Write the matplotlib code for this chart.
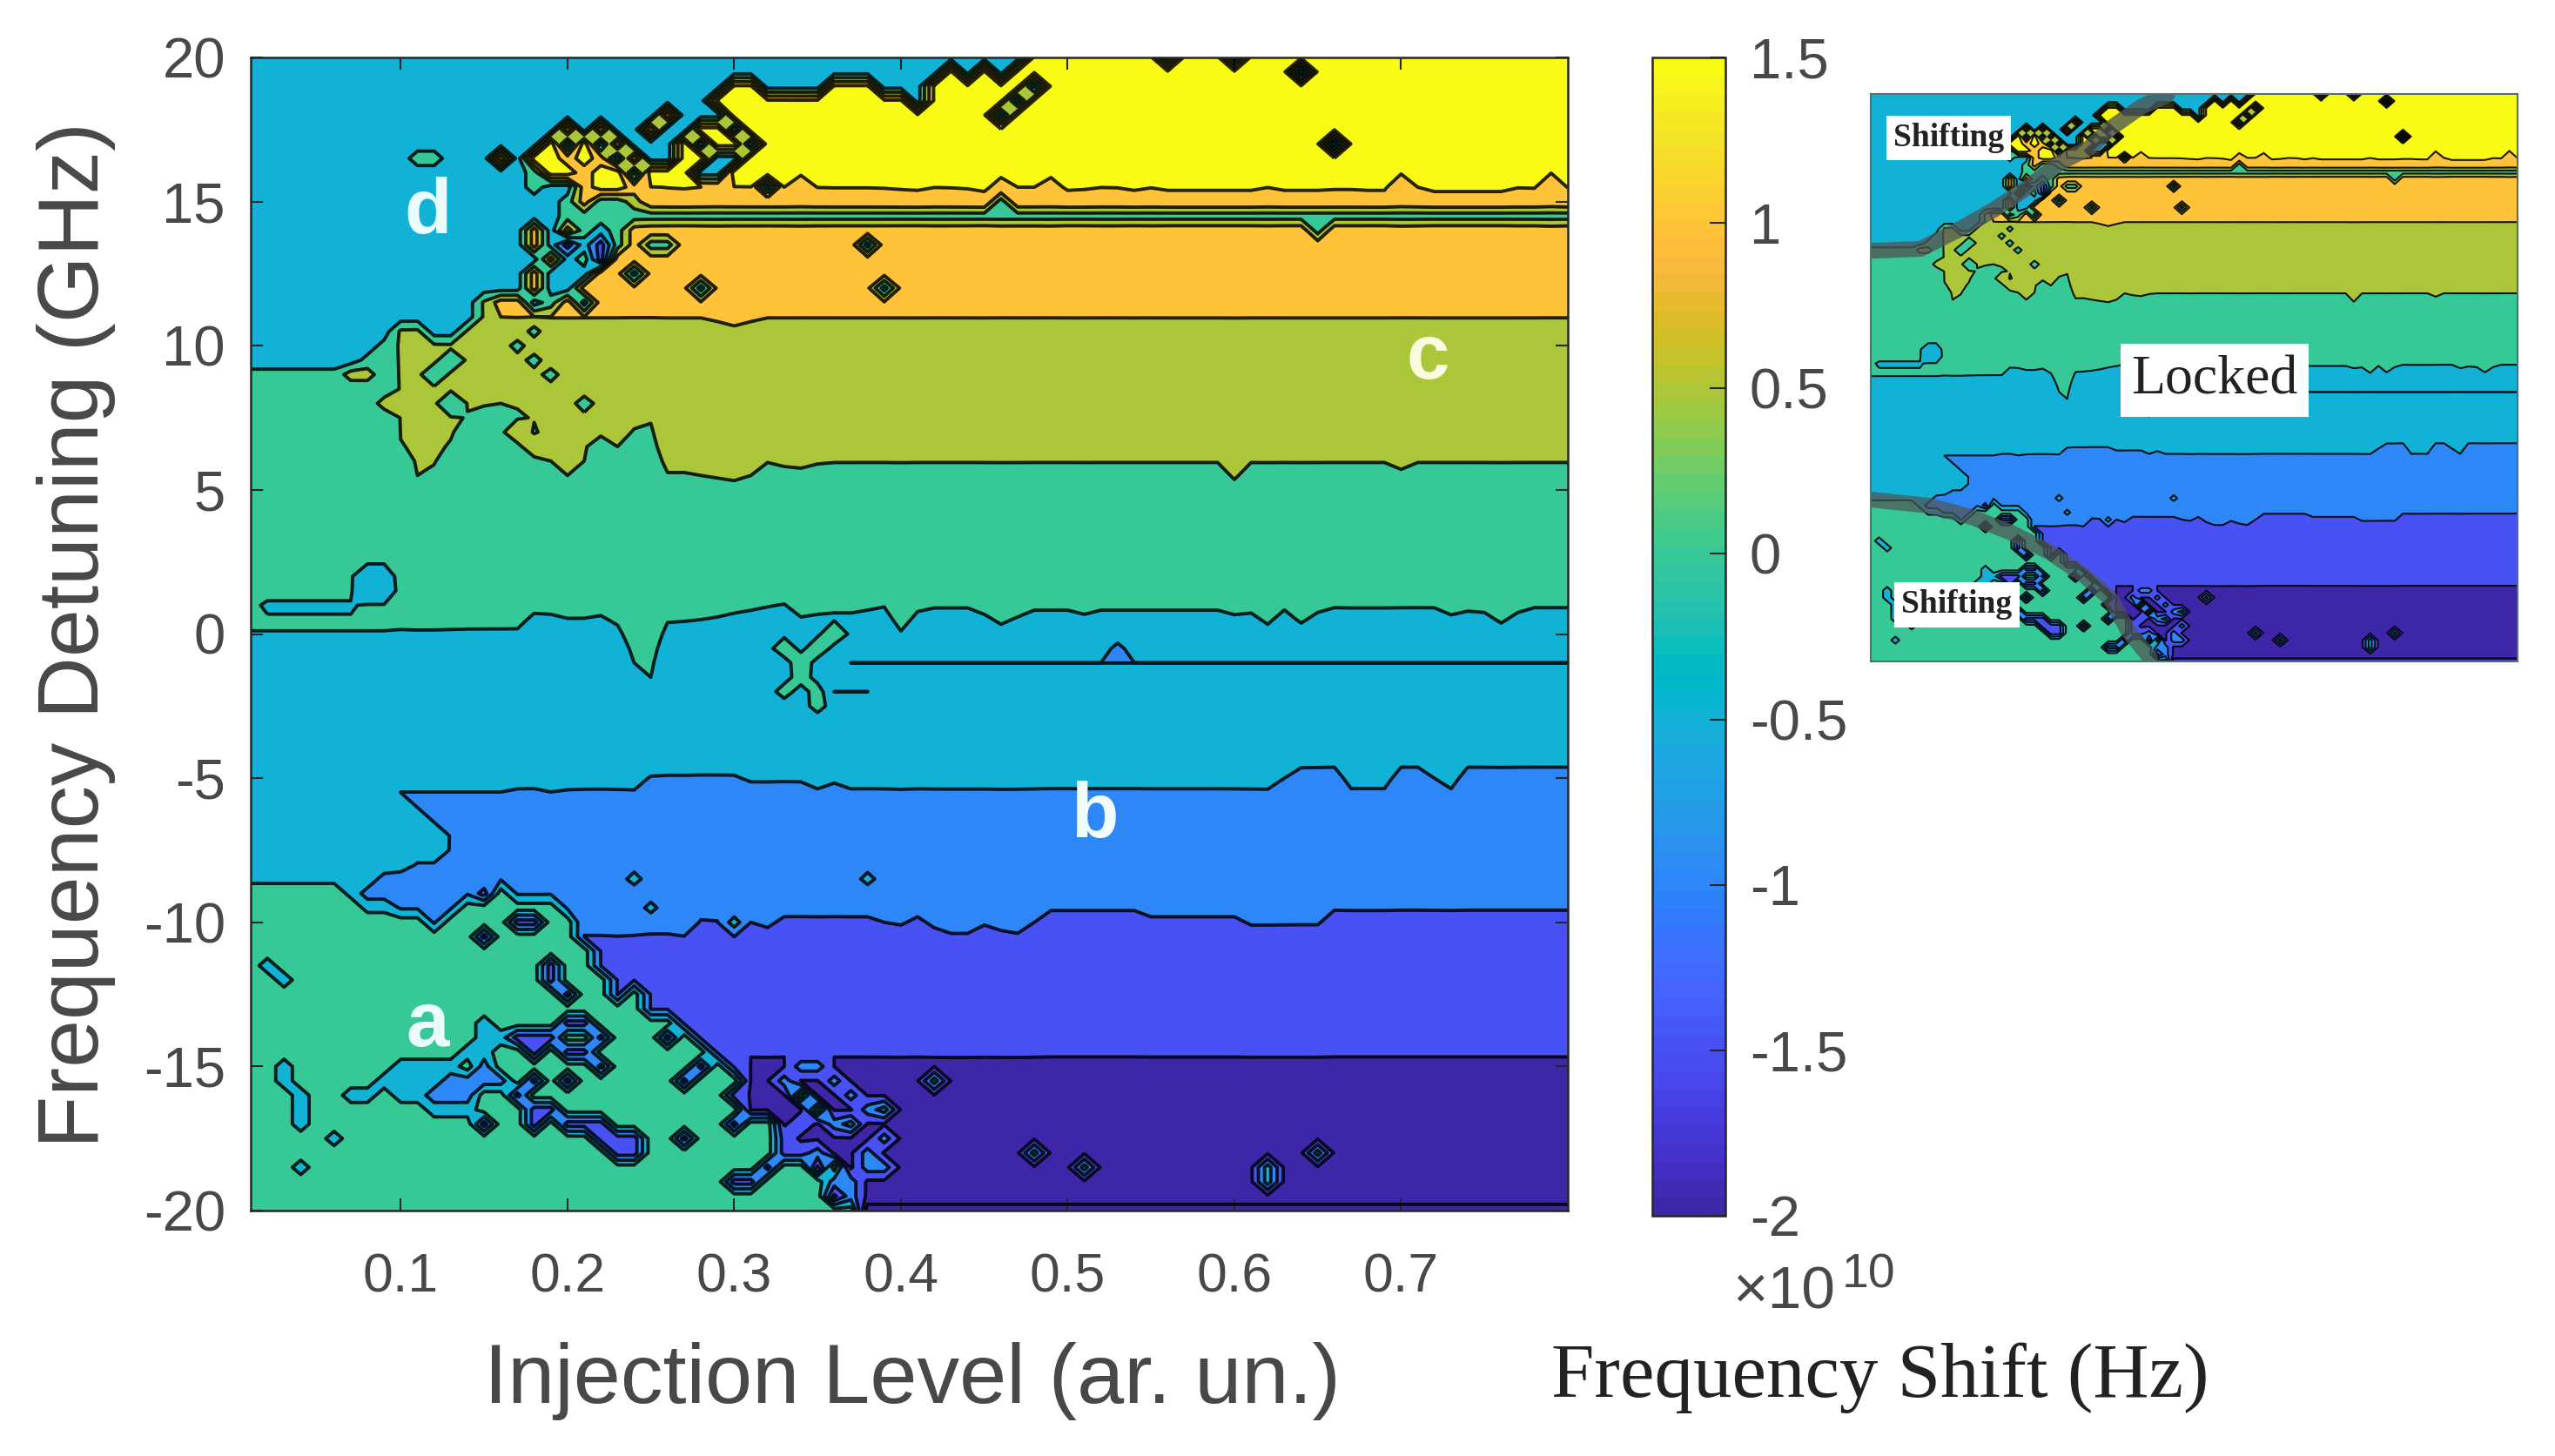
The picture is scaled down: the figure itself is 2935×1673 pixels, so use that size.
import numpy as np
import matplotlib
matplotlib.use("Agg")
import matplotlib.pyplot as plt
from matplotlib.cm import ScalarMappable
from matplotlib.colors import ListedColormap, Normalize

plt.rcParams["font.family"] = ["Liberation Sans", "DejaVu Sans"]
plt.rcParams["axes.unicode_minus"] = False

W, H = 2935, 1673

# grid of the measurement: injection level and detuning (GHz)
injection = np.arange(1, 81) / 100
detuning = np.arange(-40, 41) / 2
shift_levels = [-2, -1.5, -1, -0.5, 0, 0.5, 1, 1.5]
band_values = {"0": -1.75, "1": -1.25, "2": -0.75, "3": -0.25, "4": 0.25, "5": 0.75, "6": 1.25, "7": 1.75}

# detuning at which each contour level is crossed, one value per injection column
cross_m15 = [-42] * 30 + [-14.55] * 50
cross_m10 = ([-41] * 20 + [-10.3, -10.3, -10.4, -10.3, -10.2, -10.2, -10.4, -9.7, -9.8, -10.4, -10, -10.2, -9.8]
             + [-9.8] * 5 + [-10, -10.1, -9.8, -10.2, -10.4, -10.4, -10.1, -10.3, -10.4, -10]
             + [-9.58] * 6 + [-9.8] * 6 + [-10.1] * 5 + [-9.58] * 15)
cross_m5 = ([-40] * 9 + [-5.4] * 7 + [-5.15, -5.15, -5.4, -5.2] + [-5.4] * 4 + [-4.9] * 6 + [-5.15] * 4
            + [-5.4, -5.2] + [-5.4] * 26 + [-5, -4.63, -4.63, -4.63, -5.4, -5.4, -5.4, -4.63, -4.63, -5, -5.4]
            + [-4.63] * 7)
cross_0 = ([0.14] * 17 + [0.7, 0.7, 0.55, 0.55, 0.65, 0.3, -1, -1.5, 0.4, 0.44, 0.5, 0.6, 0.75, 0.85, 0.95, 1.05,
                          0.6, 0.7, 0.75, 0.75, 0.85, 0.95, 0.1, 0.8, 0.92, 0.92, 0.92, 0.7, 0.34, 0.6, 0.85,
                          0.85, 0.85, 0.7] + [0.85] * 8 + [0.7, 0.75, 0.34, 0.85, 0.37, 0.75] + [0.92] * 7
           + [0.68, 0.8, 0.75, 0.37, 0.75, 0.92, 0.92, 0.92])
cross_p5 = ([30] * 9 + [6.6, 5.5, 5.7, 6.6, 7.6, 7.8, 8, 7.9, 7.4, 6, 5.5, 6, 6.1, 6.5, 7.2, 7.4, 5.6, 5.6, 5.5, 5.4,
                        5.3, 5.5, 5.95, 5.8, 5.75, 5.9] + [5.95] * 24 + [5.34] + [5.95] * 9 + [5.7] + [5.95] * 10)
cross_p10 = [31] * 15 + [10.97] * 13 + [10.85, 10.7, 10.85] + [10.97] * 49
cross_p15 = ([32] * 16 + [15.4] * 8 + [15.55, 15.4, 15.3, 15.5, 15.75, 15.6, 15.55, 15.45, 15.5, 15.75, 15.45, 15.4,
                                       15.4, 15.4, 15.35, 15.25, 15.2, 15.45, 15.4, 15.3, 15.15, 15.65, 15.5, 15.5,
                                       15.65, 15.2, 15.25, 15.45, 15.4, 15.2, 15.4, 15.2]
             + [15.2] * 5 + [15.45, 15.2, 15.2, 15.2, 15.25, 15.25, 15.2, 15.2, 15.85, 15.5]
             + [15.15] * 5 + [15.4, 15.35, 15.95, 15.4])

# edges of the locked range: above/below these the laser is only shifted
upper_edge = ([9.1] * 6 + [9.3, 9.6, 10, 10.9, 10.6, 10.4, 10.4, 10.9, 11.6, 12.4, 14.2, 15.6, 17.2, 18, 17.6, 18,
                           17.2, 17.6, 18.2, 18.3, 17.6, 17.8, 18.6, 19.1, 19.1, 18.9, 18.7, 18.8, 18.8, 19.2, 19.3,
                           19, 18.7, 18.7, 18.1, 19, 19.7, 19.2, 19.6, 19.3, 19.7] + [21] * 33)
lower_edge = ([-8.6] * 6 + [-9, -9.5, -9.5, -9.7, -9.9, -10, -9.9, -9, -8.7, -8.7, -9, -9, -9, -9.5, -10.5, -11.5,
                            -12.5, -12, -13, -13, -13.5, -14, -14.5, -15, -16.5, -17, -17.5, -18, -18.5, -19.5, -20]
              + [-21] * 43)

# messy part around the upper edge, columns 15..31 (index 14..30 of x/0.01 - 1)
chaos_y = [18, 17.5, 17, 16.5, 16, 15.5, 15, 14.5, 14, 13.5, 13, 12.5, 12, 11.5]
chaos_rows = [
    "33333333337333777",
    "33337373373377377",
    "33373737333737737",
    "73776763733773377",
    "33477677377733777",
    "334336776........",
    "333346445........",
    "333344444........",
    "336364346........",
    "336313146........",
    "33363416.........",
    "3363336..........",
    "336336...........",
    "6634636..........",
]

# single measurement points that fall out of their neighbourhood: (column, detuning)
spots_blue = [(18, -11.5), (18, -12), (19, -12.5), (20, -13.5), (21, -14), (16, -10), (17, -10), (14, -9),
              (14, -10.5), (25, -14), (19, -14.5), (21, -15), (26, -15.5), (27, -15), (26, -17.5), (29, -16),
              (29, -17), (14, -17), (19, -17), (20, -17), (21, -17), (21, -17.5), (22, -17.5), (22, -18), (23, -18),
              (23, -17.5), (17, -16.5), (18, -16.5), (17, -17), (31, -18.5), (32, -18), (30, -19), (29, -19),
              (32, -17.5), (33, -17), (33, -18), (16, -14), (17, -14), (18, -14), (17, -14.5), (19, -13.5),
              (20, -14.5), (19, -15.5), (17, -15.5), (16, -16)]
spots_midblue = [(11, -16), (12, -16), (13, -16), (12, -15.5), (13, -15.5), (14, -15.5), (14, -15), (15, -15.5),
                 (32, -15.5), (33, -15), (34, -15), (35, -15.5), (36, -16), (37, -16.5), (38, -17.5), (37, -18),
                 (37, -18.5), (38, -18.5), (36, -19), (36, -19.5), (35, -17), (34, -18), (35, -19), (65, 17),
                 (63, 19.5), (52, -0.5), (7, -9), (8, -9), (8, -8.5), (9, -8.5)]
spots_teal = [(9, -6), (9, -6.5), (9, -7), (9, -7.5), (9, -8), (10, -6.5), (10, -7), (10, -7.5), (11, -7),
              (11, -7.5), (7, 1.5), (8, 1.5), (7, 2), (8, 2), (8, -15.5), (9, -15.5), (9, -15), (10, -15),
              (11, -15), (12, -15), (9, -16), (10, -15.5), (10, -16), (13, -14.5), (14, -14.5), (15, -14), (14, -14),
              (11, -15.5), (11, -16.5), (12, -16.5), (13, -16.5), (1, -11.5), (2, -12), (6, -16), (7, -16),
              (5, -17.5), (3, -18.5), (2, -15), (2, -15.5), (3, -16), (3, -16.5), (3, -17), (14, -13.5), (23, -8.5),
              (24, -9.5), (37, -8.5), (29, -10), (23, 12.5), (27, 12), (37, 13.5), (38, 12), (31, 15.5), (55, 20),
              (59, 20), (46, 18.5), (47, 19), (45, 18), (44, 20), (45, 20), (46, 20), (36, -17), (38, -16.5),
              (41, -15.5), (47, -18), (50, -18.5), (61, -18.5), (61, -19), (64, -18)]
spots_green = [(10, 16.5), (11, 16.5), (12, 9.5), (11, 9), (12, 8), (20, 8), (21, 6.5), (17, 10.5), (16, 10),
               (17, 9.5), (18, 9), (24, 13.5), (25, 13.5), (45, 15), (64, 14), (32, -0.5), (33, -1), (34, -0.5),
               (35, 0), (33, -1.5), (34, -2), (34, -2.5), (32, -2), (34, -16.5), (33, -16), (36, -20), (35, -20),
               (31, -17), (35, -18.5)]
spots_olive = [(6, 9), (7, 9), (8, 8), (16, 7), (17, 6.5)]

# rows that dip into a narrow trough along the locked range: (detuning, first column, last column, value)
trough_rows = [(14.5, 23, 79, 0.25), (-1, 36, 79, -0.505), (-2, 35, 37, -0.505), (1, 1, 6, -0.01),
               (-20, 37, 79, -2.3)]

# grey strokes drawn over the small copy to mark the locking boundary
stroke_up_x = [0.013, 0.071, 0.118, 0.16, 0.203, 0.24, 0.277, 0.303, 0.34, 0.372]
stroke_up_y = [8.95, 9.08, 10.45, 11.83, 13.47, 15.12, 16.21, 17.59, 19.09, 19.92]
stroke_low_x = [0.013, 0.081, 0.134, 0.182, 0.229, 0.271, 0.303, 0.324, 0.351]
stroke_low_y = [-8.61, -9.02, -9.84, -10.94, -12.31, -13.96, -15.6, -17.8, -19.72]

x_ticks = [0.1, 0.2, 0.3, 0.4, 0.5, 0.6, 0.7]
y_ticks = [-20, -15, -10, -5, 0, 5, 10, 15, 20]
cbar_ticks = [-2, -1.5, -1, -0.5, 0, 0.5, 1, 1.5]
cbar_labels = ["-2", "-1.5", "-1", "-0.5", "0", "0.5", "1", "1.5"]

parula = ListedColormap([
    (0.2422, 0.1504, 0.6603), (0.2504, 0.1650, 0.7076), (0.2578, 0.1818, 0.7511), (0.2647, 0.1978, 0.7952),
    (0.2706, 0.2147, 0.8364), (0.2751, 0.2342, 0.8710), (0.2783, 0.2559, 0.8991), (0.2803, 0.2782, 0.9221),
    (0.2813, 0.3006, 0.9414), (0.2810, 0.3228, 0.9579), (0.2795, 0.3447, 0.9717), (0.2760, 0.3667, 0.9829),
    (0.2699, 0.3892, 0.9906), (0.2602, 0.4123, 0.9952), (0.2440, 0.4358, 0.9988), (0.2206, 0.4603, 0.9973),
    (0.1963, 0.4847, 0.9892), (0.1834, 0.5074, 0.9798), (0.1786, 0.5289, 0.9682), (0.1764, 0.5499, 0.9520),
    (0.1687, 0.5703, 0.9359), (0.1540, 0.5902, 0.9218), (0.1460, 0.6091, 0.9079), (0.1380, 0.6276, 0.8973),
    (0.1248, 0.6459, 0.8883), (0.1113, 0.6635, 0.8763), (0.0952, 0.6798, 0.8598), (0.0689, 0.6948, 0.8394),
    (0.0297, 0.7082, 0.8163), (0.0036, 0.7203, 0.7917), (0.0067, 0.7312, 0.7660), (0.0433, 0.7411, 0.7394),
    (0.0964, 0.7500, 0.7120), (0.1408, 0.7584, 0.6842), (0.1717, 0.7670, 0.6554), (0.1938, 0.7758, 0.6251),
    (0.2161, 0.7843, 0.5923), (0.2470, 0.7918, 0.5567), (0.2906, 0.7973, 0.5188), (0.3406, 0.8008, 0.4789),
    (0.3909, 0.8029, 0.4354), (0.4456, 0.8024, 0.3909), (0.5044, 0.7993, 0.3480), (0.5616, 0.7942, 0.3045),
    (0.6174, 0.7876, 0.2612), (0.6720, 0.7793, 0.2227), (0.7242, 0.7698, 0.1910), (0.7738, 0.7598, 0.1646),
    (0.8203, 0.7498, 0.1535), (0.8634, 0.7406, 0.1596), (0.9035, 0.7330, 0.1774), (0.9393, 0.7288, 0.2100),
    (0.9728, 0.7298, 0.2394), (0.9956, 0.7434, 0.2371), (0.9970, 0.7659, 0.2199), (0.9952, 0.7893, 0.2028),
    (0.9892, 0.8136, 0.1885), (0.9786, 0.8386, 0.1766), (0.9676, 0.8639, 0.1643), (0.9610, 0.8890, 0.1537),
    (0.9597, 0.9135, 0.1423), (0.9628, 0.9373, 0.1265), (0.9691, 0.9606, 0.1064), (0.9769, 0.9839, 0.0805),
])


def row_of(y):
    return int(round((y + 20) * 2))


def build_shift_map():
    z = np.zeros((len(detuning), len(injection)))
    for c in range(len(injection)):
        xp = [-60, cross_m15[c], cross_m10[c], cross_m5[c], cross_0[c], cross_p5[c], cross_p10[c], cross_p15[c], 60]
        fp = [-2.5, -1.5, -1, -0.5, 0, 0.5, 1, 1.5, 2.5]
        z[:, c] = np.interp(detuning, xp, fp)
        z[detuning > upper_edge[c], c] = band_values["3"]
        z[detuning < lower_edge[c], c] = band_values["4"]

    for y, first, last, value in trough_rows:
        z[row_of(y), first:last + 1] = value

    for y, text in zip(chaos_y, chaos_rows):
        for k, ch in enumerate(text):
            if ch != ".":
                z[row_of(y), 15 + k] = band_values[ch]

    for spots, key in [(spots_blue, "1"), (spots_midblue, "2"), (spots_teal, "3"),
                       (spots_green, "4"), (spots_olive, "5")]:
        for c, y in spots:
            z[row_of(y), c] = band_values[key]
    return z


def draw_field(ax, z, lw, alpha):
    fill_levels = [-3] + shift_levels + [2, 3]
    fill_colors = [parula(0.0)] + [parula((v + 2) / 3.5) for v in shift_levels] + [parula(1.0)]
    ax.contourf(injection, detuning, z, levels=fill_levels, colors=fill_colors)
    ax.contour(injection, detuning, z, levels=shift_levels, colors="k", linewidths=lw, alpha=alpha,
               linestyles="solid")
    ax.set_xlim(0.01, 0.8)
    ax.set_ylim(-20, 20)


def add_axes_px(fig, left, top, right, bottom):
    return fig.add_axes([left / W, 1 - bottom / H, (right - left) / W, (bottom - top) / H])


def text_px(fig, x, y, s, **kw):
    fig.text(x / W, 1 - y / H, s, **kw)


shift_map = build_shift_map()

fig = plt.figure(figsize=(W / 100, H / 100), dpi=100, facecolor="white")
text_grey = "#484848"

ax = add_axes_px(fig, 288, 66, 1801, 1391)
draw_field(ax, shift_map, 2.8, 0.85)
ax.set_xticks(x_ticks)
ax.set_xticklabels([str(t) for t in x_ticks])
ax.set_yticks(y_ticks)
ax.tick_params(direction="in", top=True, right=True, length=10, width=1.5, colors="#262626",
               labelcolor=text_grey)
ax.tick_params(axis="x", labelsize=45, pad=34)
ax.tick_params(axis="y", labelsize=47, pad=21)
for s in ax.spines.values():
    s.set_linewidth(1.8)
    s.set_color("#262626")
text_px(fig, 1048, 1587, "Injection Level (ar. un.)", fontsize=70, color=text_grey, ha="center", va="center")
text_px(fig, 88, 730, "Frequency Detuning (GHz)", fontsize=71, color=text_grey, ha="center", va="center",
        rotation=90)

letters = [(0.116, 14.6, "d", "#eafcfc"), (0.116, -13.6, "a", "#eafcfc"), (0.516, -6.35, "b", "#f2fdfd"),
           (0.716, 9.55, "c", "#fbfbe0")]
for lx, ly, s, col in letters:
    ax.text(lx, ly, s, fontsize=64, fontweight="bold", color=col, ha="center", va="center")

cax = add_axes_px(fig, 1898, 66, 1982, 1397)
cb = fig.colorbar(ScalarMappable(Normalize(-2, 1.5), parula), cax=cax)
cb.set_ticks(cbar_ticks)
cb.set_ticklabels(cbar_labels)
cax.tick_params(direction="in", length=13, width=1.5, colors="#262626", labelsize=47,
                labelcolor=text_grey, pad=20)
cb.outline.set_linewidth(1.8)
cb.outline.set_edgecolor("#262626")

text_px(fig, 1990, 1503, "\u00d710", fontsize=50, color=text_grey, va="baseline")
text_px(fig, 2116, 1479, "10", fontsize=40, color=text_grey, va="baseline")
text_px(fig, 2537, 1605, "Frequency Shift (Hz)", fontsize=64, family="Liberation Serif",
        color="#222222", ha="right", va="baseline")

ins = add_axes_px(fig, 2149, 108, 2892, 760)
draw_field(ins, shift_map, 1.5, 0.9)
ins.set_xticks([])
ins.set_yticks([])
for s in ins.spines.values():
    s.set_linewidth(1.5)
    s.set_color("#55706f")
ins.plot(stroke_up_x, stroke_up_y, color="#4f5656", lw=13, alpha=0.78, solid_capstyle="round")
ins.plot(stroke_low_x, stroke_low_y, color="#4f5656", lw=13, alpha=0.72, solid_capstyle="round")

box = dict(facecolor="white", edgecolor="none", pad=6)
ins.text(0.105, 16.9, "Shifting", fontsize=27, fontweight="bold", family="Liberation Serif", color="#222222",
         ha="center", va="center", bbox=box)
ins.text(0.115, -16.0, "Shifting", fontsize=27, fontweight="bold", family="Liberation Serif", color="#222222",
         ha="center", va="center", bbox=box)
ins.text(0.43, -0.2, "Locked", fontsize=46, family="Liberation Serif", color="#222222", ha="center", va="center",
         bbox=dict(facecolor="white", edgecolor="none", pad=9))

fig.savefig("out.png", dpi=100)
